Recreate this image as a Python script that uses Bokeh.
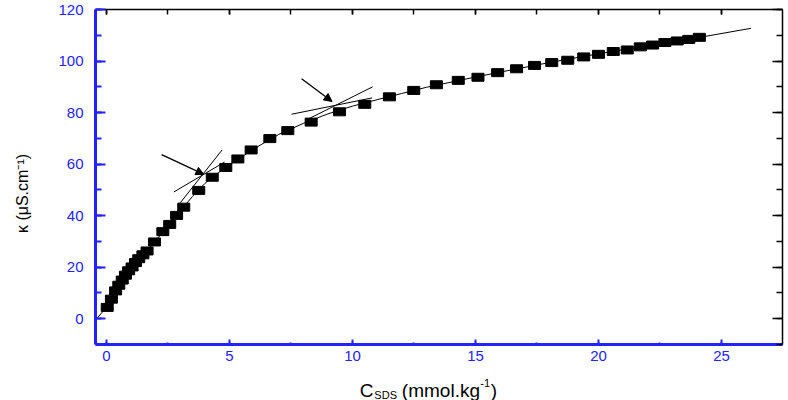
import math
from bokeh.plotting import figure
from bokeh.models import (LinearAxis, SingleIntervalTicker, Range1d, Label, Arrow,
                          NormalHead, ColumnDataSource)
from bokeh.embed import file_html
from bokeh.resources import INLINE

# ---- data ----
conc = [0.03, 0.2, 0.37, 0.5, 0.64, 0.77, 0.9, 1.04, 1.18, 1.31, 1.48, 1.65, 1.95, 2.29,
        2.57, 2.85, 3.14, 3.75, 4.3, 4.85, 5.34, 5.88, 6.64, 7.37, 8.32, 9.47, 10.5, 11.5,
        12.49, 13.41, 14.3, 15.1, 15.9, 16.67, 17.4, 18.1, 18.75, 19.4, 20.0, 20.6, 21.17,
        21.7, 22.2, 22.7, 23.2, 23.67, 24.1]
kappa = [4.4, 7.6, 10.8, 13.0, 15.0, 16.9, 18.6, 20.1, 21.8, 23.3, 24.8, 26.3, 29.8, 33.8,
         36.6, 40.1, 43.3, 49.8, 54.9, 58.7, 62.0, 65.5, 69.9, 73.0, 76.3, 80.3, 83.2, 86.1,
         88.6, 90.8, 92.5, 93.7, 95.5, 97.0, 98.3, 99.4, 100.3, 101.6, 102.6, 103.7, 104.3,
         105.5, 106.2, 107.2, 107.8, 108.4, 109.2]

fit_c = [-0.4, 0.0, 0.5, 1.0, 1.5, 2.0, 2.5, 3.0, 3.5, 4.0, 4.5, 5.0, 6.0, 7.0, 8.0, 9.0,
         10.0, 11.0, 12.0, 13.0, 14.0, 15.0, 16.0, 18.0, 20.0, 22.0, 24.0, 26.2]
fit_k = [0.0, 4.5, 13.0, 19.7, 24.9, 30.3, 36.0, 41.8, 47.5, 52.5, 56.3, 59.7, 66.0, 71.5,
         75.8, 79.5, 82.5, 85.0, 87.4, 89.8, 91.8, 93.8, 95.7, 99.4, 102.8, 106.0, 109.0, 112.7]

tan_c0 = [3.0, 2.74, 7.52, 8.2]
tan_k0 = [45.0, 49.2, 79.35, 77.5]
tan_c1 = [4.7, 4.8, 10.8, 10.82]
tan_k1 = [65.5, 60.8, 85.7, 90.0]

arrow_c0 = [2.24, 7.93]
arrow_k0 = [63.7, 93.1]
arrow_c1 = [3.96, 9.17]
arrow_k1 = [56.0, 84.3]

x_lo, x_hi = -0.447, 27.48      # plot box in data units
y_lo, y_hi = -10, 120
x_tick_step = 5
y_tick_step = 20

BLUE = "#2323ff"
FONT = "Liberation Sans"

# canvas layout (pixels) -> ranges covering the whole canvas
W, H = 788, 400
box_left, box_right, box_top, box_bottom = 95, 782, 9, 344
ppx = (box_right - box_left) / (x_hi - x_lo)
ppy = (box_bottom - box_top) / (y_hi - y_lo)
xr = Range1d(x_lo - box_left / ppx, x_hi + (W - box_right) / ppx)
yr = Range1d(y_lo - (H - box_bottom) / ppy, y_hi + box_top / ppy)

p = figure(width=W, height=H, output_backend="svg", toolbar_location=None,
           x_range=xr, y_range=yr, x_axis_location=None, y_axis_location=None,
           min_border_left=0, min_border_right=0, min_border_top=0, min_border_bottom=0)
p.grid.visible = False
p.outline_line_color = None
p.background_fill_color = "white"
p.border_fill_color = "white"


def make_axis(step, loc, bounds, color, width, tin, min_in, labels):
    ax = LinearAxis(ticker=SingleIntervalTicker(interval=step, num_minor_ticks=2),
                    fixed_location=loc, bounds=bounds,
                    axis_line_color=color, axis_line_width=width, axis_line_alpha=1.0,
                    major_tick_line_color=color, minor_tick_line_color=color,
                    major_tick_line_width=2 if labels else 1.5,
                    minor_tick_line_width=2 if labels else 1.5,
                    major_tick_in=tin, major_tick_out=0,
                    minor_tick_in=min_in, minor_tick_out=0,
                    major_label_text_font=FONT, major_label_text_font_size="15px")
    if labels:
        ax.major_label_text_color = BLUE
    else:
        ax.major_label_text_color = None
    return ax


top = make_axis(x_tick_step, y_hi, (x_lo, x_hi), "black", 1.5, 5, 5, False)
right = make_axis(y_tick_step, x_hi, (y_lo, y_hi), "black", 1.5, 10, 6, False)
bottom = make_axis(x_tick_step, y_lo, (x_lo, x_hi), BLUE, 3, 5, 2, True)
bottom.major_label_standoff = 6
left = make_axis(y_tick_step, x_lo, (y_lo, y_hi), BLUE, 3, 10, 6, True)
left.major_label_standoff = 12
p.add_layout(top, "above")
p.add_layout(right, "right")
p.add_layout(bottom, "below")
p.add_layout(left, "left")

# fit line and tangents
p.line(fit_c, fit_k, line_color="black", line_width=1)
p.segment(x0=tan_c0, y0=tan_k0, x1=tan_c1, y1=tan_k1, line_color="black", line_width=1)

# data markers
p.rect(conc, kappa, width=12, height=8, width_units="screen", height_units="screen",
       fill_color="black", line_color="black")

# arrows
asrc = ColumnDataSource(dict(x0=arrow_c0, y0=arrow_k0, x1=arrow_c1, y1=arrow_k1))
p.add_layout(Arrow(end=NormalHead(size=8, fill_color="black", line_color="black", line_width=1),
                   x_start="x0", y_start="y0", x_end="x1", y_end="y1", source=asrc,
                   line_color="black", line_width=1.3))

# y axis title
p.add_layout(Label(x=-3.41, y=48.6, text="κ (μS.cm⁻¹)", angle=math.pi / 2,
                   text_align="center", text_baseline="middle", text_font=FONT,
                   text_font_size="16px", text_color="black"))

# x axis title in pieces (subscript / superscript)
x0, y0 = 10.3, -27.9
pieces = [("C", 0, 0, "19px"), ("SDS", 14.5, -4, "11px"), ("(mmol.kg", 42, 0, "19px"),
          ("-1", 120.5, 8, "11px"), (")", 131, 0, "19px")]
for txt, dx, dy, fs in pieces:
    p.add_layout(Label(x=x0, y=y0, x_offset=dx, y_offset=dy, text=txt,
                       text_align="left", text_baseline="alphabetic",
                       text_font=FONT, text_font_size=fs, text_color="black"))

open("out.html", "w").write(file_html(p, INLINE))
